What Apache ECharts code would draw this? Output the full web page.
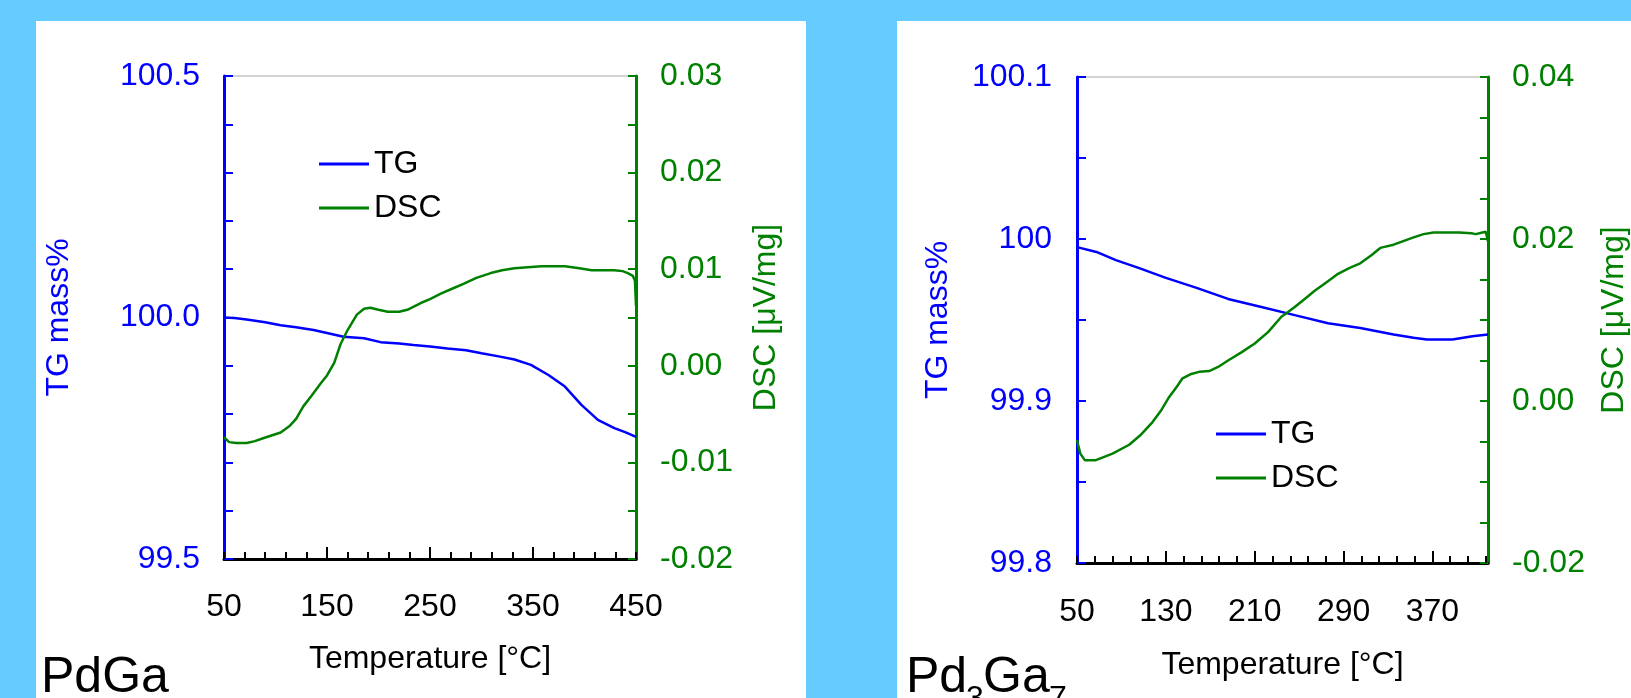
<!DOCTYPE html>
<html>
<head>
<meta charset="utf-8">
<script src="https://cdn.jsdelivr.net/npm/echarts@6/dist/echarts.min.js"></script>
<style>
html,body{margin:0;padding:0;background:#66CCFF;}
#chart{width:1631px;height:698px;}
</style>
</head>
<body>
<div id="chart"></div>
<script>
// ---------- PdGa (left panel) ----------
const pdgaTgTemp = [50,60,72,90,105,120,137,150,166,186,202,220,234,250,267,285,300,318,332,348,365,381,397,413,429,440,450];
const pdgaTgMass = [100.000,99.999,99.996,99.990,99.984,99.980,99.974,99.968,99.960,99.957,99.949,99.946,99.943,99.940,99.936,99.932,99.926,99.919,99.913,99.902,99.881,99.857,99.819,99.788,99.771,99.762,99.753];
const pdgaDscTemp = [50,55,62,72,80,88,105,114,120,127,135,144,150,157,163,170,179,186,192,200,209,220,228,241,250,261,272,283,295,309,320,332,345,358,370,381,395,407,420,429,437,442,447,449,450];
const pdgaDscVal = [-0.0074,-0.0079,-0.0080,-0.0080,-0.0078,-0.0075,-0.0069,-0.0062,-0.0055,-0.0042,-0.0031,-0.0018,-0.0010,0.0003,0.0022,0.0037,0.0053,0.0059,0.0060,0.0058,0.0056,0.0056,0.0058,0.0065,0.0069,0.0075,0.0080,0.0085,0.0091,0.0096,0.0099,0.0101,0.0102,0.0103,0.0103,0.0103,0.0101,0.0099,0.0099,0.0099,0.0098,0.0096,0.0093,0.0088,0.0062];
const pdgaTempLabels = [50,150,250,350,450];
const pdgaTempMinorTicks = [50,70,90,110,130,150,170,190,210,230,250,270,290,310,330,350,370,390,410,430,450];
const pdgaTempMajorTicks = [150,250,350];
const pdgaTgLabels = [99.5,100.0,100.5];
const pdgaTgTicks = [99.5,99.6,99.7,99.8,99.9,100.0,100.1,100.2,100.3,100.4,100.5];
const pdgaDscLabels = [-0.02,-0.01,0.00,0.01,0.02,0.03];
const pdgaDscTicks = [-0.02,-0.015,-0.01,-0.005,0,0.005,0.01,0.015,0.02,0.025,0.03];

// ---------- Pd3Ga7 (right panel) ----------
const pd3TgTemp = [50,67.5,85,106,130,157,186,216,246,276,305,335,353,365,388,406,420];
const pd3TgMass = [99.995,99.992,99.987,99.982,99.976,99.970,99.963,99.958,99.953,99.948,99.945,99.941,99.939,99.938,99.938,99.940,99.941];
const pd3DscTemp = [50,51,53,57,67,82,97,108,118,126,133,140,145,152,160,169,177,186,198,210,222,234,240,246,255,264,275,285,295,305,315,323,335,345,353,362,371,385,394,405,409,415,418,420];
const pd3DscVal = [-0.0048,-0.0054,-0.0065,-0.0073,-0.0073,-0.0065,-0.0054,-0.0041,-0.0026,-0.0011,0.0005,0.0018,0.0028,0.0033,0.0036,0.0037,0.0042,0.0050,0.0060,0.0071,0.0085,0.0104,0.0110,0.0116,0.0126,0.0136,0.0147,0.0157,0.0164,0.0170,0.0180,0.0189,0.0193,0.0198,0.0202,0.0206,0.0208,0.0208,0.0208,0.0207,0.0206,0.0208,0.0209,0.0197];
const pd3TempLabels = [50,130,210,290,370];
const pd3TempMinorTicks = [50,66,82,98,114,130,146,162,178,194,210,226,242,258,274,290,306,322,338,354,370,386,402,418];
const pd3TempMajorTicks = [130,210,290,370];
const pd3TgLabels = [99.8,99.9,100,100.1];
const pd3TgTicks = [99.8,99.85,99.9,99.95,100,100.05,100.1];
const pd3DscLabels = [-0.02,0.00,0.02,0.04];
const pd3DscTicks = [-0.02,-0.015,-0.01,-0.005,0,0.005,0.01,0.015,0.02,0.025,0.03,0.035,0.04];

const seriesNames = ['TG','DSC'];
const panelTitles = ['PdGa'];

const FONT = 'Liberation Sans, Arial, Helvetica, sans-serif';
const BLUE = '#0000FF';
const GREEN = '#008000';
const FS = 32;

function zip(a,b){ return a.map((v,i)=>[v,b[i]]); }

function xMain(grid, min, max, labels, ticks, margin, nameGap){
  return {
    gridIndex: grid, type:'value', min, max, position:'bottom',
    axisLine:{show:true, onZero:false, lineStyle:{color:'#000', width:3}},
    axisTick:{show:true, inside:true, length:7, customValues: ticks, lineStyle:{color:'#000', width:2}},
    axisLabel:{show:true, customValues: labels, margin, color:'#000', fontSize:FS, fontFamily:FONT},
    splitLine:{show:false},
    name:'Temperature [°C]', nameLocation:'middle', nameGap,
    nameTextStyle:{color:'#000', fontSize:FS, fontFamily:FONT}
  };
}
function xMajor(grid, min, max, ticks){
  return {
    gridIndex: grid, type:'value', min, max, position:'bottom',
    axisLine:{show:false, onZero:false},
    axisTick:{show:true, inside:true, length:12, customValues: ticks, lineStyle:{color:'#000', width:2}},
    axisLabel:{show:false}, splitLine:{show:false}
  };
}
function yAxis(grid, pos, min, max, labels, ticks, fmt, color, name, nameGap, margin, tickLen){
  return {
    gridIndex: grid, type:'value', min, max, position: pos,
    axisLine:{show:true, onZero:false, lineStyle:{color, width:3}},
    axisTick:{show:true, inside:true, length:tickLen, customValues: ticks, lineStyle:{color, width:2}},
    axisLabel:{show:true, customValues: labels, formatter: fmt, margin, color, fontSize:FS, fontFamily:FONT},
    splitLine:{show:false},
    name, nameLocation:'middle', nameGap, nameRotate:90,
    nameTextStyle:{color, fontSize:FS, fontFamily:FONT}
  };
}
function lineSeries(name, x, y, color, xi, yi){
  return {
    name, type:'line', xAxisIndex:xi, yAxisIndex:yi, data: zip(x,y),
    symbol:'none', showSymbol:false, smooth:false, animation:false,
    lineStyle:{color, width:2.5}, itemStyle:{color}
  };
}

const chart = echarts.init(document.getElementById('chart'), null, {renderer:'canvas'});
chart.setOption({
  backgroundColor:'#66CCFF',
  animation:false,
  grid:[
    {left:224, top:76, width:412, height:483, show:true, borderColor:'#a8a8a8', borderWidth:1, backgroundColor:'transparent', containLabel:false},
    {left:1077, top:77, width:415, height:486, show:true, borderColor:'#a8a8a8', borderWidth:1, backgroundColor:'transparent', containLabel:false}
  ],
  xAxis:[
    xMain(0, 50, 450, pdgaTempLabels, pdgaTempMinorTicks, 32, 84),
    xMajor(0, 50, 450, pdgaTempMajorTicks),
    xMain(1, 50, 420, pd3TempLabels, pd3TempMinorTicks, 33, 86),
    xMajor(1, 50, 420, pd3TempMajorTicks)
  ],
  yAxis:[
    yAxis(0,'left',99.5,100.5,pdgaTgLabels,pdgaTgTicks,v=>v.toFixed(1),BLUE,'TG mass%',149,24,9),
    yAxis(0,'right',-0.02,0.03,pdgaDscLabels,pdgaDscTicks,v=>v.toFixed(2),GREEN,'DSC [μV/mg]',114,24,8),
    yAxis(1,'left',99.8,100.1,pd3TgLabels,pd3TgTicks,v=>String(+v.toFixed(2)),BLUE,'TG mass%',123,25,9),
    yAxis(1,'right',-0.02,0.04,pd3DscLabels,pd3DscTicks,v=>v.toFixed(2),GREEN,'DSC [μV/mg]',110,24,8)
  ],
  legend:[
    {orient:'vertical', left:314, top:143, icon:'rect', itemWidth:50, itemHeight:3, itemGap:12, data:seriesNames,
     textStyle:{color:'#000', fontSize:FS, fontFamily:FONT}, selectedMode:false},
    {orient:'vertical', left:1211, top:413, icon:'rect', itemWidth:50, itemHeight:3, itemGap:12, data:seriesNames,
     textStyle:{color:'#000', fontSize:FS, fontFamily:FONT}, selectedMode:false}
  ],
  series:[
    lineSeries('TG', pdgaTgTemp, pdgaTgMass, BLUE, 0, 0),
    lineSeries('DSC', pdgaDscTemp, pdgaDscVal, GREEN, 0, 1),
    lineSeries('TG', pd3TgTemp, pd3TgMass, BLUE, 2, 2),
    lineSeries('DSC', pd3DscTemp, pd3DscVal, GREEN, 2, 3)
  ],
  graphic:[
    {type:'rect', z:-10, silent:true, shape:{x:36, y:21, width:770, height:677}, style:{fill:'#FFFFFF'}},
    {type:'rect', z:-10, silent:true, shape:{x:897, y:21, width:734, height:677}, style:{fill:'#FFFFFF'}},
    {type:'text', z:10, x:41, y:678, style:{text:panelTitles[0], font:'50px '+FONT, fill:'#000', verticalAlign:'middle'}},
    {type:'text', z:10, x:906, y:678, style:{text:'Pd', font:'50px '+FONT, fill:'#000', verticalAlign:'middle'}},
    {type:'text', z:10, x:966, y:699, style:{text:'3', font:'32px '+FONT, fill:'#000', verticalAlign:'middle'}},
    {type:'text', z:10, x:983, y:678, style:{text:'Ga', font:'50px '+FONT, fill:'#000', verticalAlign:'middle'}},
    {type:'text', z:10, x:1049, y:699, style:{text:'7', font:'32px '+FONT, fill:'#000', verticalAlign:'middle'}}
  ]
});
</script>
</body>
</html>
